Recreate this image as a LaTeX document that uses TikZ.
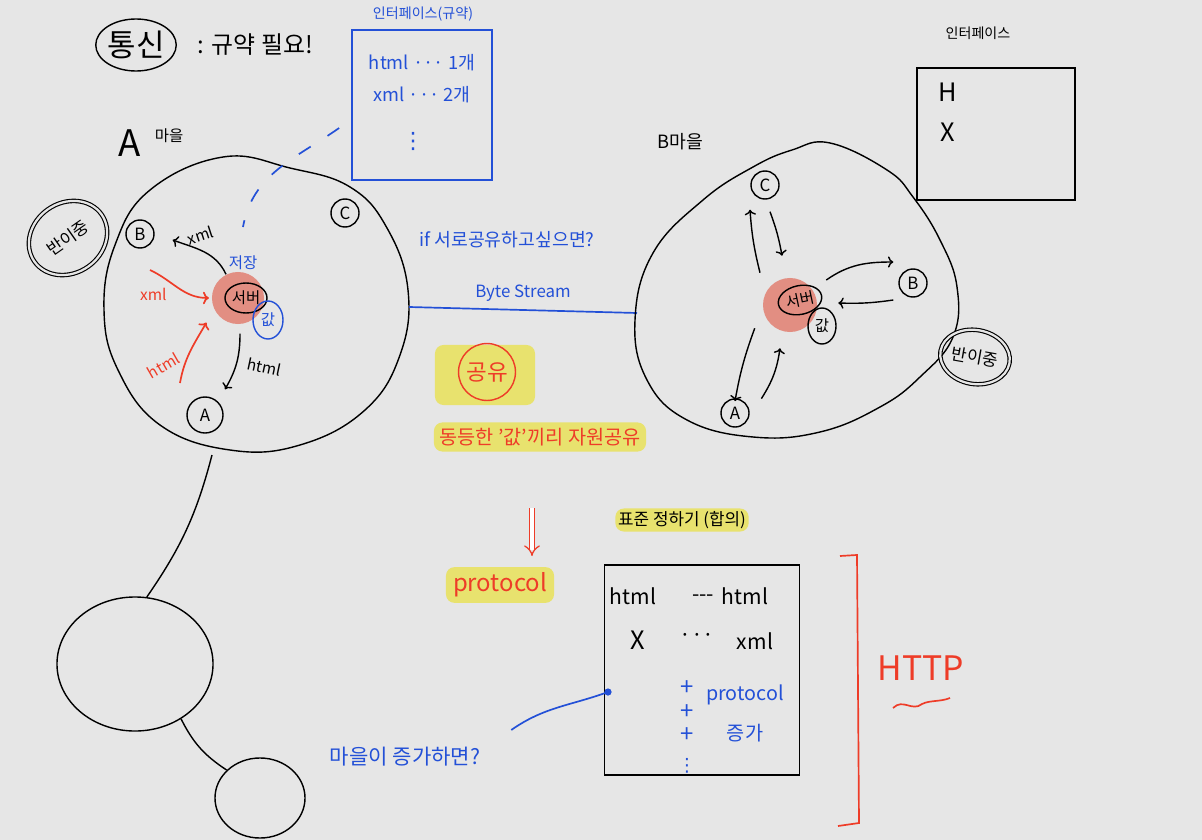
\documentclass[tikz,border=0pt]{standalone}
\usepackage{fontspec}
\setmainfont{Noto Sans CJK KR}
\newfontfamily\dotsfont{DejaVu Sans}
\usetikzlibrary{positioning,shapes.geometric,arrows.meta}

\definecolor{board}{RGB}{230,230,230}
\definecolor{inkblue}{RGB}{35,80,215}
\definecolor{inkred}{RGB}{238,60,40}
\definecolor{hilite}{RGB}{232,226,110}
\definecolor{glow}{RGB}{226,142,130}

\newcommand{\fs}[1]{\fontsize{#1}{#1}\selectfont}

\tikzset{
  pen/.style={line width=1pt, black},
  bluepen/.style={line width=1.2pt, inkblue},
  redpen/.style={line width=1.2pt, inkred},
  knot/.style={circle, draw, line width=1pt, minimum size=0.7cm, inner sep=0pt, font=\fs{12}},
  glowdot/.style={circle, fill=glow, minimum size=1.3cm, inner sep=0pt},
  hl/.style={fill=hilite, rounded corners=6pt, inner sep=4pt},
  halfduplex/.style={ellipse, draw, line width=0.8pt, double=board, double distance=1.6pt, inner sep=1pt, font=\fs{12}},
}

\begin{document}
\begin{tikzpicture}[x=0.025cm, y=-0.025cm]
  \fill[board] (0,0) rectangle (1202,840);
  \useasboundingbox (0,0) rectangle (1202,840);

  % Title
  \node[ellipse, draw, pen, minimum width=1.6cm, minimum height=1.3cm, inner sep=0pt, font=\fs{22}] (tongsin) at (136,45) {통신};
  \node[right=4mm of tongsin, font=\fs{17}] (needrule) {: 규약 필요!};

  % Interface of village A
  \node[draw=inkblue, line width=1.2pt, minimum width=3.5cm, minimum height=3.75cm] (ifboxA) at (422,105) {};
  \node[inkblue, font=\fs{10}] (ifnameA) at (423,14) {인터페이스(규약)};
  \node[inkblue, font=\fs{13}, inner sep=1pt] (rowA1) at (422,63) {html ··· 1개};
  \node[inkblue, font=\fs{13}, inner sep=1pt] (rowA2) at (422,95) {xml ··· 2개};
  \node[inkblue, font=\dotsfont\fs{16}, inner sep=0pt] (rowA3) at (413,142) {⋮};

  % Village A
  \node[font=\fs{26}] (villA) at (130,143) {A};
  \node[anchor=south west, font=\fs{11}] (maeulA) at (150,148) {마을};
  \draw[pen] plot[smooth cycle, tension=0.7] coordinates {(223,157) (290,168) (350,187) (387,228) (408,290) (400,355) (365,410) (300,445) (230,450) (160,425) (118,370) (104,310) (115,245) (150,190)};
  \node[halfduplex, minimum width=2.05cm, minimum height=1.75cm, rotate=35] (halfA) at (68,238) {반이중};
  \node[knot] (nB) at (140,234) {B};
  \node[knot] (nC) at (345,213) {C};
  \node[knot, minimum size=0.9cm] (nA) at (205,415) {A};
  \node[glowdot] (glowA) at (238,298) {};
  \node[ellipse, draw, pen, minimum width=1.05cm, minimum height=0.75cm, inner sep=0pt, font=\fs{11}] (srvA) at (246,298) {서버};
  \node[ellipse, draw=inkblue, line width=1pt, text=inkblue, minimum width=0.75cm, minimum height=0.95cm, inner sep=0pt, font=\fs{11}] (valA) at (268,320) {값};
  \node[inkblue, font=\fs{11}] (saveA) at (243,263) {저장};
  \draw[inkblue, line width=1.2pt, dash pattern=on 0.35cm off 0.5cm] ([shift={(-12,23)}]ifboxA.west) to[out=215, in=80] ([yshift=0.6cm]saveA.north);

  % Messages in village A
  \draw[pen, ->] ([shift={(-20,-8)}]srvA.north) to[out=115, in=-20] node[pos=0.5, above=4pt, rotate=18, font=\fs{11}] {xml} ([shift={(18,6)}]nB.east);
  \draw[redpen, ->] ([shift={(10,36)}]nB.center) to[out=-25, in=180] node[pos=0.05, below=8pt, text=inkred, font=\fs{11}] {xml} ([xshift=-2]glowA.west);
  \coordinate (redtail) at (180,383);
  \draw[redpen, ->] (redtail) to[out=80, in=-120] node[pos=0.45, left=4pt, rotate=30, text=inkred, font=\fs{11}] {html} ([shift={(-13,6)}]glowA.south west);
  \draw[pen, ->] ([shift={(-6,20)}]srvA.south) to[out=-90, in=60] node[pos=0.5, right=4pt, rotate=-12, font=\fs{11}] {html} ([shift={(20,-7)}]nA.north);

  % Link between the villages
  \coordinate (edgeA) at (409,307);
  \coordinate (edgeB) at (637,313);
  \draw[bluepen] (edgeA) -- node[above=2pt, inkblue, font=\fs{12}] (bytes) {Byte Stream} (edgeB);
  \node[inkblue, font=\fs{13}] (ifshare) at (507,240) {if 서로공유하고싶으면?};

  % Sharing
  \node[hl, minimum width=2.5cm, minimum height=1.5cm] (sharehl) at (485,375) {};
  \node[circle, draw=inkred, line width=1pt, text=inkred, font=\fs{16}, inner sep=3pt] (share) at (487,372) {공유};
  \node[hl, text=inkred, font=\fs{14}] (equal) at (540,437) {동등한 '값'끼리 자원공유};
  \coordinate (dntop) at (532,508);
  \coordinate (dnend) at (532,556);
  \draw[inkred, line width=0.9pt, double distance=3pt, -Implies] (dntop) -- (dnend);
  \node[hl, text=inkred, font=\fs{17}, minimum width=2.7cm] (proto) at (500,585) {protocol};

  % Standard
  \node[hl, font=\fs{12}, inner sep=2pt] (std) at (682,520) {표준 정하기 (합의)};
  \node[draw, line width=1.2pt, minimum width=4.875cm, minimum height=5.25cm] (stdbox) at (702,670) {};
  \node[font=\fs{15}] (r1a) at (633,596) {html};
  \node[font=\fs{15}] (r1b) at (703,598) {-{}-{}-};
  \node[font=\fs{15}] (r1c) at (745,596) {html};
  \node[font=\fs{18}] (r2a) at (638,640) {X};
  \node[font=\fs{15}] (r2b) at (697,638) {···};
  \node[font=\fs{15}] (r2c) at (755,641) {xml};
  \foreach \y in {688,712,735}
    \node[inkblue, font=\fs{17}, inner sep=0pt] (plus\y) at (687,\y) {+};
  \node[inkblue, font=\dotsfont\fs{13}, inner sep=0pt] (morevd) at (687,766) {⋮};
  \node[inkblue, font=\fs{14}] (protoB) at (745,695) {protocol};
  \node[inkblue, font=\fs{14}] (grow) at (745,733) {증가};
  \coordinate (dotp) at (608,692);
  \fill[inkblue] (dotp) circle (0.09cm);
  \node[inkblue, font=\fs{15}] (moreq) at (405,757) {마을이 증가하면?};
  \draw[bluepen] ([shift={(26,-27)}]moreq.east) to[out=35, in=200] (dotp);

  % HTTP
  \draw[redpen] (840,556) -- (857,555) -- (859,823) -- (838,826);
  \node[inkred, font=\fs{24}] (http) at (921,668) {HTTP};
  \draw[redpen] (893,708) .. controls (903,698) and (912,712) .. (922,704) .. controls (930,700) and (940,702) .. (950,698);

  % Village B
  \node[font=\fs{13}] (villB) at (680,142) {B마을};
  \draw[pen] plot[smooth cycle, tension=0.7] coordinates {(830,143) (887,170) (913,197) (940,240) (957,287) (953,337) (920,377) (880,407) (820,432) (753,437) (687,420) (647,380) (635,320) (653,253) (703,200) (753,167) (792,150)};
  \node[knot] (nCb) at (765,185) {C};
  \node[knot] (nBb) at (913,283) {B};
  \node[knot] (nAb) at (735,413) {A};
  \node[glowdot, minimum size=1.35cm] (glowB) at (790,305) {};
  \node[ellipse, draw, pen, minimum width=1.1cm, minimum height=0.72cm, inner sep=0pt, rotate=12, font=\fs{11}] (srvB) at (800,300) {서버};
  \node[ellipse, draw, pen, minimum width=0.7cm, minimum height=0.9cm, inner sep=0pt, font=\fs{11}] (valB) at (822,326) {값};
  \node[halfduplex, minimum width=1.75cm, minimum height=1.35cm, rotate=-10] (halfB) at (975,357) {반이중};
  \draw[pen, ->] ([shift={(5,12)}]nCb.south) to[bend left=5] ([shift={(-8,-22)}]glowB.north);
  \draw[pen, ->] ([shift={(-30,-5)}]glowB.north) to[bend left=5] ([shift={(-15,10)}]nCb.south);
  \draw[pen, ->] ([shift={(9,-25)}]glowB.east) to[out=35, in=180] ([shift={(-5,-21)}]nBb.west);
  \draw[pen, ->] ([shift={(-5,17)}]nBb.west) to[bend left=5] ([shift={(21,-2)}]glowB.east);
  \draw[pen, ->] ([shift={(-16,4)}]glowB.south west) to[bend right=5] ([yshift=-2]nAb.north);
  \draw[pen, ->] ([shift={(16,-4)}]nAb.north east) to[bend right=12] ([shift={(-10,16)}]glowB.south);

  % Interface of village B
  \node[draw, line width=1.2pt, minimum width=3.95cm, minimum height=3.3cm] (ifboxB) at (996,134) {};
  \node[font=\fs{10}] (ifnameB) at (978,33) {인터페이스};
  \node[font=\fs{18}] (hB) at (948,92) {H};
  \node[font=\fs{18}] (xB) at (948,132) {X};

  % More villages
  \node[ellipse, draw, pen, minimum width=3.9cm, minimum height=3.35cm] (villD) at (135,664) {};
  \node[ellipse, draw, pen, minimum width=2.25cm, minimum height=2cm] (villE) at (260,798) {};
  \coordinate (edgeAbot) at (212,455);
  \draw[pen] (edgeAbot) to[bend left=10] (villD.80);
  \draw[pen] (villD.-50) to[bend right=15] (villE.140);
\end{tikzpicture}
\end{document}
